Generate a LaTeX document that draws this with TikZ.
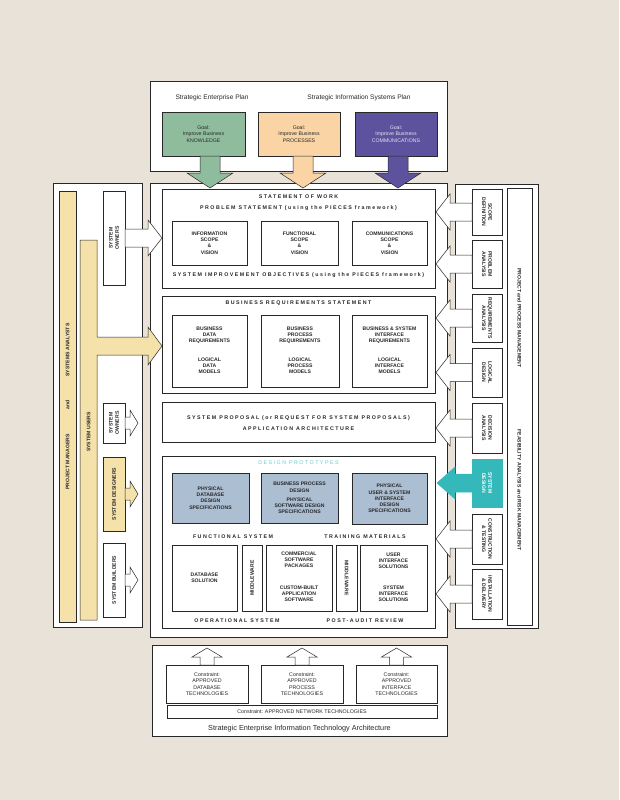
\documentclass[tikz,border=0pt]{standalone}
\usepackage{fontspec}
\setmainfont{Liberation Sans}
\newfontfamily\spaced[LetterSpace=28]{Liberation Sans}
\definecolor{bg}{RGB}{233,226,216}
\definecolor{goalgreen}{RGB}{143,188,156}
\definecolor{goalorange}{RGB}{250,212,164}
\definecolor{goalpurple}{RGB}{92,82,158}
\definecolor{physblue}{RGB}{172,190,210}
\definecolor{sdcyan}{RGB}{52,184,186}
\definecolor{barfill}{RGB}{244,226,170}
\definecolor{ink}{RGB}{40,40,40}
\newcommand\bx[7][]{\node[box,#1,minimum width={#5-#3},minimum height={#6-#4}] (#2) at ({(#3+#5)/2},{(#4+#6)/2}) {#7};}
% horizontal block arrow: tip x, centre y, head base x, tail x, head half, stem half, fill
\newcommand\harrow[7]{\filldraw[draw=ink,fill=#7,line width=0.5pt,line join=miter] (#1,#2) -- (#3,#2-#5) -- (#3,#2-#6) -- (#4,#2-#6) -- (#4,#2+#6) -- (#3,#2+#6) -- (#3,#2+#5) -- cycle;}
% vertical block arrow: centre x, tip y, head base y, tail y, head half, stem half, fill
\newcommand\varrow[7]{\filldraw[draw=ink,fill=#7,line width=0.5pt,line join=miter] (#1,#2) -- (#1-#5,#3) -- (#1-#6,#3) -- (#1-#6,#4) -- (#1+#6,#4) -- (#1+#6,#3) -- (#1+#5,#3) -- cycle;}
\tikzset{
  box/.style={draw=ink,line width=0.5pt,fill=white,inner sep=0pt,outer sep=0pt,align=center,text=ink,font=\bfseries\fontsize{5.1}{6.2}\selectfont},
  tb/.style={align=center,text=ink,inner sep=0pt,font=\bfseries\fontsize{5.1}{6.2}\selectfont},
  hd/.style={text=ink,inner sep=0pt,font=\spaced\bfseries\fontsize{5.3}{6}\selectfont},
  lbl/.style={text=ink,inner sep=0pt,font=\fontsize{6.6}{7.5}\selectfont},
  gl/.style={font=\fontsize{5.2}{6.3}\selectfont},
  cst/.style={font=\fontsize{5.3}{6.3}\selectfont},
}
\begin{document}
\begin{tikzpicture}[x=1pt,y=-1pt]
\fill[bg] (0,0) rectangle (619,800);
\useasboundingbox (0,0) rectangle (619,800);

% ---------- top: strategic plans ----------
\bx{plans}{150}{81}{447}{171}{}
\node[lbl] (sep) at (212,98) {Strategic Enterprise Plan};
\node[lbl] (sisp) at (359,98) {Strategic Information Systems Plan};
\bx[fill=goalgreen,gl]{g1}{162}{112}{245}{156}{Goal:\\Improve Business\\KNOWLEDGE}
\bx[fill=goalorange,gl]{g2}{258}{112}{340}{156}{Goal:\\Improve Business\\PROCESSES}
\bx[fill=goalpurple,text=white!85!goalpurple,gl]{g3}{355}{112}{437}{156}{Goal:\\Improve Business\\COMMUNICATIONS}

% ---------- main column ----------
\bx{main}{150}{183}{447}{637}{}

\bx{sow}{162}{189}{435}{288}{}
\node[hd] (sowt) at (298.5,197) {STATEMENT OF WORK};
\node[hd] (pst) at (298.5,208.5) {PROBLEM STATEMENT (using the PIECES framework)};
\bx{isv}{172}{221}{247}{265}{INFORMATION\\SCOPE\\\&\\VISION}
\bx{fsv}{261}{221}{338}{265}{FUNCTIONAL\\SCOPE\\\&\\VISION}
\bx{csv}{352}{221}{427}{265}{COMMUNICATIONS\\SCOPE\\\&\\VISION}
\node[hd] (sio) at (298.5,275.5) {SYSTEM IMPROVEMENT OBJECTIVES (using the PIECES framework)};

\bx{brs}{162}{296}{435}{393}{}
\node[hd] (brst) at (298.5,303) {BUSINESS REQUIREMENTS STATEMENT};
\bx{bdr}{172}{315}{247}{387}{}
\bx{bpr}{261}{315}{339}{387}{}
\bx{bir}{352}{315}{427}{387}{}
\node[tb] (bdr1) at (209.5,335) {BUSINESS\\DATA\\REQUIREMENTS};
\node[tb] (bdr2) at (209.5,366) {LOGICAL\\DATA\\MODELS};
\node[tb] (bpr1) at (300,335) {BUSINESS\\PROCESS\\REQUIREMENTS};
\node[tb] (bpr2) at (300,366) {LOGICAL\\PROCESS\\MODELS};
\node[tb] (bir1) at (389.5,335) {BUSINESS \& SYSTEM\\INTERFACE\\REQUIREMENTS};
\node[tb] (bir2) at (389.5,366) {LOGICAL\\INTERFACE\\MODELS};

\bx{sp}{162}{402}{435}{442}{}
\node[hd] (spt1) at (298.5,418) {SYSTEM PROPOSAL\enspace (or\enspace REQUEST FOR SYSTEM PROPOSALS)};
\node[hd] (spt2) at (298.5,429) {APPLICATION ARCHITECTURE};

\bx{dp}{162}{456}{435}{628}{}
\node[hd,text=sdcyan!75!white,font=\spaced\fontsize{5.3}{6}\selectfont] (dpt) at (298.5,463) {DESIGN PROTOTYPES};
\bx[fill=physblue]{pdb}{172}{473}{249}{523}{PHYSICAL\\DATABASE\\DESIGN\\SPECIFICATIONS}
\bx[fill=physblue]{psw}{261}{473}{338}{523}{BUSINESS PROCESS\\DESIGN\\[3pt]PHYSICAL\\SOFTWARE DESIGN\\SPECIFICATIONS}
\bx[fill=physblue]{pui}{352}{473}{427}{524}{PHYSICAL\\USER \& SYSTEM\\INTERFACE\\DESIGN\\SPECIFICATIONS}
\node[hd] (fst) at (233,536.5) {FUNCTIONAL SYSTEM};
\node[hd] (tmt) at (365,536.5) {TRAINING MATERIALS};
\bx{dbs}{172}{545}{237}{611}{DATABASE\\SOLUTION}
\bx{mw1}{242}{545}{262}{611}{}
\node[tb,rotate=90] (mw1t) at (mw1) {MIDDLEWARE};
\bx{csw}{266}{545}{332}{611}{}
\node[tb] (csw1) at (299,560) {COMMERCIAL\\SOFTWARE\\PACKAGES};
\node[tb] (csw2) at (299,594) {CUSTOM-BUILT\\APPLICATION\\SOFTWARE};
\bx{mw2}{336}{545}{357}{611}{}
\node[tb,rotate=-90] (mw2t) at (mw2) {MIDDLEWARE};
\bx{uis}{360}{545}{427}{611}{}
\node[tb] (uis1) at (393.5,561) {USER\\INTERFACE\\SOLUTIONS};
\node[tb] (uis2) at (393.5,594) {SYSTEM\\INTERFACE\\SOLUTIONS};
\node[hd] (ost) at (237,621) {OPERATIONAL SYSTEM};
\node[hd] (part) at (365,621) {POST-AUDIT REVIEW};

% ---------- bottom: technology architecture ----------
\bx{arch}{152}{645}{447}{736}{}
\bx[cst]{c1}{166}{665}{248}{703}{Constraint:\\APPROVED\\DATABASE\\TECHNOLOGIES}
\bx[cst]{c2}{261}{665}{343}{703}{Constraint:\\APPROVED\\PROCESS\\TECHNOLOGIES}
\bx[cst]{c3}{356}{665}{437}{703}{Constraint:\\APPROVED\\INTERFACE\\TECHNOLOGIES}
\bx[cst]{net}{167}{705}{437}{718}{Constraint: APPROVED NETWORK TECHNOLOGIES}
\node[lbl,font=\fontsize{7.3}{8}\selectfont] (seita) at (299.5,728.5) {Strategic Enterprise Information Technology Architecture};
\varrow{207}{648}{657}{665}{15}{7}{white}
\varrow{302}{648}{657}{665}{15}{7}{white}
\varrow{396.5}{648}{657}{665}{15}{7}{white}

% ---------- left panel: stakeholders ----------
\bx{lp}{53}{183}{142}{627}{}
\bx[fill=barfill]{pm}{59}{191}{76}{622}{}
\node[tb,rotate=90] (pmt1) at (67.5,350) {SYSTEMS ANALYSTS};
\node[tb,rotate=90] (pmt2) at (67.5,405) {and};
\node[tb,rotate=90] (pmt3) at (67.5,462) {PROJECT MANAGERS};
\filldraw[draw=ink,fill=barfill,line width=0.5pt] (80,240) -- (97,240) -- (97,337) -- (148,337) -- (148,327) -- (162,346) -- (148,365) -- (148,355) -- (97,355) -- (97,620) -- (80,620) -- cycle;
\node[tb,rotate=90] (sut) at (88.5,432) {SYSTEM USERS};
\bx{so1}{103}{191}{125}{285}{}
\node[tb,rotate=90] (so1t) at (so1) {SYSTEM\\OWNERS};
\bx{so2}{103}{403}{125}{443}{}
\node[tb,rotate=90] (so2t) at (so2) {SYSTEM\\OWNERS};
\bx[fill=barfill]{sd}{103}{457}{125}{531}{}
\node[tb,rotate=90] (sdt) at (sd) {SYSTEM DESIGNERS};
\bx{sb}{103}{543}{125}{617}{}
\node[tb,rotate=90] (sbt) at (sb) {SYSTEM BUILDERS};
\harrow{162}{238}{148}{125}{18}{9}{white}
\harrow{138}{423}{130}{125}{13}{6}{white}
\harrow{138}{494}{130}{125}{13}{6}{barfill}
\harrow{138}{580}{130}{125}{13}{6}{white}

% ---------- right panel: phases ----------
\bx{rp}{455}{184}{538}{628}{}
\bx{pmg}{507}{188}{532}{625}{}
\node[tb,rotate=-90] (pmgt1) at (519.5,318) {PROJECT and PROCESS MANAGEMENT};
\node[tb,rotate=-90] (pmgt2) at (519.5,490) {FEASIBILITY ANALYSIS and RISK MANAGEMENT};
\bx{ph1}{472}{189}{502}{235}{}
\node[tb,rotate=-90] (ph1t) at (ph1) {SCOPE\\DEFINITION};
\bx{ph2}{472}{240}{502}{288}{}
\node[tb,rotate=-90] (ph2t) at (ph2) {PROBLEM\\ANALYSIS};
\bx{ph3}{472}{294}{502}{342}{}
\node[tb,rotate=-90] (ph3t) at (ph3) {REQUIREMENTS\\ANALYSIS};
\bx{ph4}{472}{348}{502}{397}{}
\node[tb,rotate=-90] (ph4t) at (ph4) {LOGICAL\\DESIGN};
\bx{ph5}{472}{403}{502}{453}{}
\node[tb,rotate=-90] (ph5t) at (ph5) {DECISION\\ANALYSIS};
\bx[fill=sdcyan,draw=sdcyan]{ph6}{472}{459}{502}{507}{}
\node[tb,rotate=-90,text=white] (ph6t) at (ph6) {SYSTEM\\DESIGN};
\bx{ph7}{472}{514}{502}{564}{}
\node[tb,rotate=-90] (ph7t) at (ph7) {CONSTRUCTION\\\& TESTING};
\bx{ph8}{472}{569}{502}{619}{}
\node[tb,rotate=-90] (ph8t) at (ph8) {INSTALLATION\\\& DELIVERY};
\harrow{436}{212}{450}{472}{18}{9}{white}
\harrow{436}{264}{450}{472}{18}{9}{white}
\harrow{436}{318}{450}{472}{18}{9}{white}
\harrow{436}{372.5}{450}{472}{18}{9}{white}
\harrow{436}{428}{450}{472}{18}{9}{white}
\filldraw[draw=sdcyan,fill=sdcyan,line width=0.5pt] (437,483) -- (455,467) -- (455,474) -- (472.5,474) -- (472.5,492) -- (455,492) -- (455,499) -- cycle;
\harrow{436}{539}{450}{472}{18}{9}{white}
\harrow{436}{594}{450}{472}{18}{9}{white}

% ---------- top goal arrows ----------
\varrow{210}{188}{173}{156}{23}{10}{goalgreen}
\varrow{303}{188}{173}{156}{23}{10}{goalorange}
\varrow{398}{188}{173}{156}{23}{10}{goalpurple}
\end{tikzpicture}
\end{document}
